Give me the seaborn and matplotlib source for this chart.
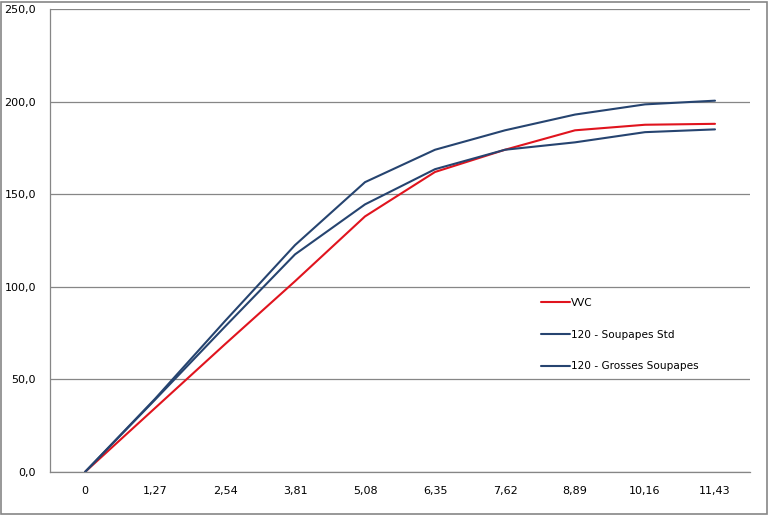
import matplotlib
matplotlib.use("Agg")
import matplotlib.pyplot as plt
import seaborn as sns
import pandas as pd
from matplotlib.patches import Rectangle

categories = ["0", "1,27", "2,54", "3,81", "5,08", "6,35", "7,62", "8,89", "10,16", "11,43"]
vvc = [0.0, 34.5, 69.0, 103.0, 138.0, 162.0, 174.0, 184.5, 187.5, 188.0]
std = [0.0, 39.0, 78.5, 117.5, 144.5, 163.5, 174.0, 178.0, 183.5, 185.0]
grosses = [0.0, 39.5, 81.5, 122.5, 156.5, 174.0, 184.5, 193.0, 198.5, 200.5]
series_names = ["VVC", "120 - Soupapes Std", "120 - Grosses Soupapes"]
y_ticks = [0, 50, 100, 150, 200, 250]

rows = []
for name, vals in zip(series_names, [vvc, std, grosses]):
    for i, v in enumerate(vals):
        rows.append({"idx": i, "val": v, "serie": name})
df = pd.DataFrame(rows)

sns.set_style("white")
plt.rcParams["font.family"] = ["DejaVu Sans"]
plt.rcParams["text.color"] = "black"
plt.rcParams["xtick.labelcolor"] = "black"
plt.rcParams["ytick.labelcolor"] = "black"

fig = plt.figure(figsize=(7.69, 5.16), dpi=100)
ax = fig.add_axes([50/769, 44/516, 700/769, 463/516])

palette = {"VVC": "#E0141E", "120 - Soupapes Std": "#264470", "120 - Grosses Soupapes": "#264470"}
sns.lineplot(data=df, x="idx", y="val", hue="serie", hue_order=series_names,
             palette=palette, linewidth=1.5, ax=ax, sort=False, legend=True)

grid_c = "#868686"
ax.set_xlim(-0.5, len(categories) - 0.5)
ax.set_ylim(0, 250)
ax.set_yticks(y_ticks)
ax.set_yticklabels([f"{t:.1f}".replace(".", ",") for t in y_ticks], fontsize=8, color="black")
ax.yaxis.grid(True, color=grid_c, linewidth=0.9)
ax.set_axisbelow(True)

ax.set_xticks([i + 0.5 for i in range(-1, len(categories))])
ax.set_xticklabels([])
ax.set_xticks(range(len(categories)), minor=True)
ax.set_xticklabels(categories, minor=True, fontsize=8, color="black")
ax.tick_params(axis="x", which="major", length=4, color=grid_c, width=0.9, direction="out")
ax.tick_params(axis="x", which="minor", length=0, pad=10)
ax.tick_params(axis="y", length=4, color=grid_c, width=0.9, direction="out", pad=6)
ax.set_xlabel("")
ax.set_ylabel("")

for s in ["top", "right"]:
    ax.spines[s].set_visible(False)
for s in ["left", "bottom"]:
    ax.spines[s].set_color(grid_c)
    ax.spines[s].set_linewidth(0.9)

handles, labels = ax.get_legend_handles_labels()
leg = ax.legend(handles, labels, loc="upper left", bbox_to_anchor=(541/769, (516-298)/516),
                bbox_transform=fig.transFigure, frameon=False, fontsize=7.6,
                handlelength=2.7, handletextpad=0.1, labelspacing=2.05,
                borderpad=0, borderaxespad=0)
for t in leg.get_texts():
    t.set_color("black")

fig.patches.append(Rectangle((1/769, 2/516), 766/769, 512/516, transform=fig.transFigure,
                             fill=False, edgecolor=grid_c, linewidth=1.2))

fig.savefig("out.png", dpi=100)
